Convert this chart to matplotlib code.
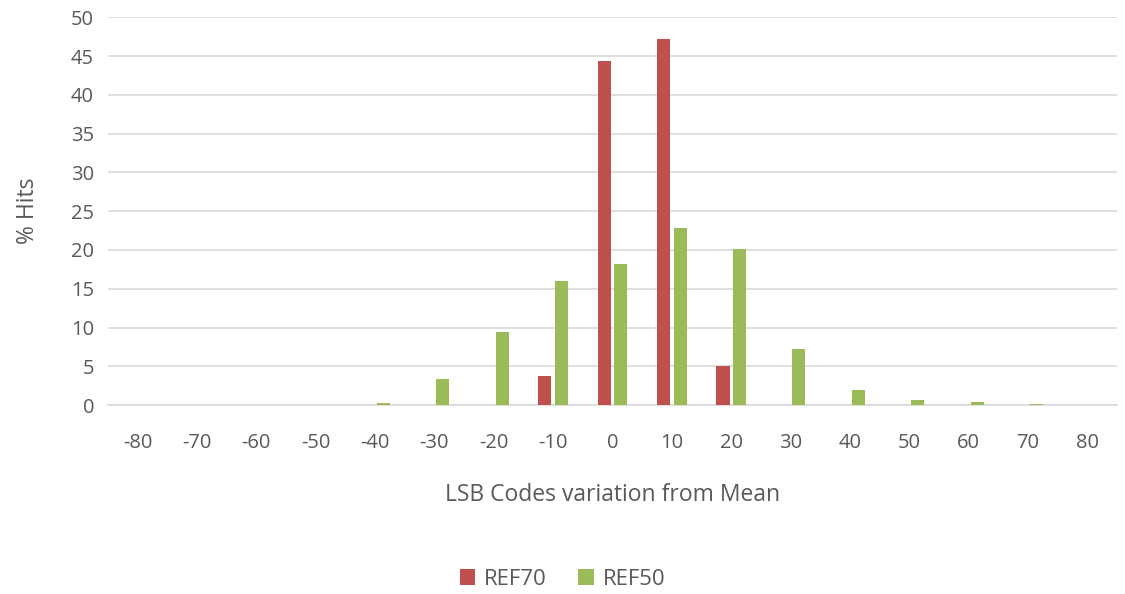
import numpy as np
import matplotlib.pyplot as plt

# Categories and values
codes = [-80, -70, -60, -50, -40, -30, -20, -10, 0, 10, 20, 30, 40, 50, 60, 70, 80]
ref70 = [0, 0, 0, 0, 0, 0, 0, 3.7, 44.3, 47.2, 5.0, 0, 0, 0, 0, 0, 0]
ref50 = [0, 0, 0, 0, 0.3, 3.35, 9.4, 16.0, 18.2, 22.8, 20.1, 7.2, 1.9, 0.6, 0.45, 0.2, 0]

plt.rcParams['font.family'] = ['Open Sans', 'DejaVu Sans']
grey = '#595959'

fig = plt.figure(figsize=(11.25, 5.94), dpi=100)
ax = fig.add_axes([0.096, 0.318, 0.897, 0.653])

x = np.arange(len(codes))
w = 0.22
ax.bar(x - 0.14, ref70, width=w, color='#c0504d', label='REF70', zorder=3)
ax.bar(x + 0.14, ref50, width=w, color='#9bbb59', label='REF50', zorder=3)

ax.set_xlim(-0.5, len(codes) - 0.5)
ax.set_ylim(0, 50)
ax.set_yticks(range(0, 51, 5))
ax.set_xticks(x)
ax.set_xticklabels([str(c) for c in codes])
ax.tick_params(axis='both', length=0, labelsize=14.5, colors=grey)
ax.tick_params(axis='x', pad=20)
ax.tick_params(axis='y', pad=10)
ax.grid(axis='y', color='#d9d9d9', linewidth=1.2, zorder=0)
for s in ['top', 'right', 'left']:
    ax.spines[s].set_visible(False)
ax.spines['bottom'].set_color('#d9d9d9')
ax.spines['bottom'].set_linewidth(1.2)

ax.set_xlabel('LSB Codes variation from Mean', fontsize=16.5, color=grey, labelpad=22)
ax.set_ylabel('% Hits', fontsize=16.5, color=grey, labelpad=22)

fig.legend(loc='lower center', bbox_to_anchor=(0.5, -0.027), ncol=2, frameon=False,
           fontsize=16, labelcolor=grey, handlelength=0.7, handleheight=0.7,
           columnspacing=1.4, handletextpad=0.4)

fig.savefig('out.png', dpi=100)
